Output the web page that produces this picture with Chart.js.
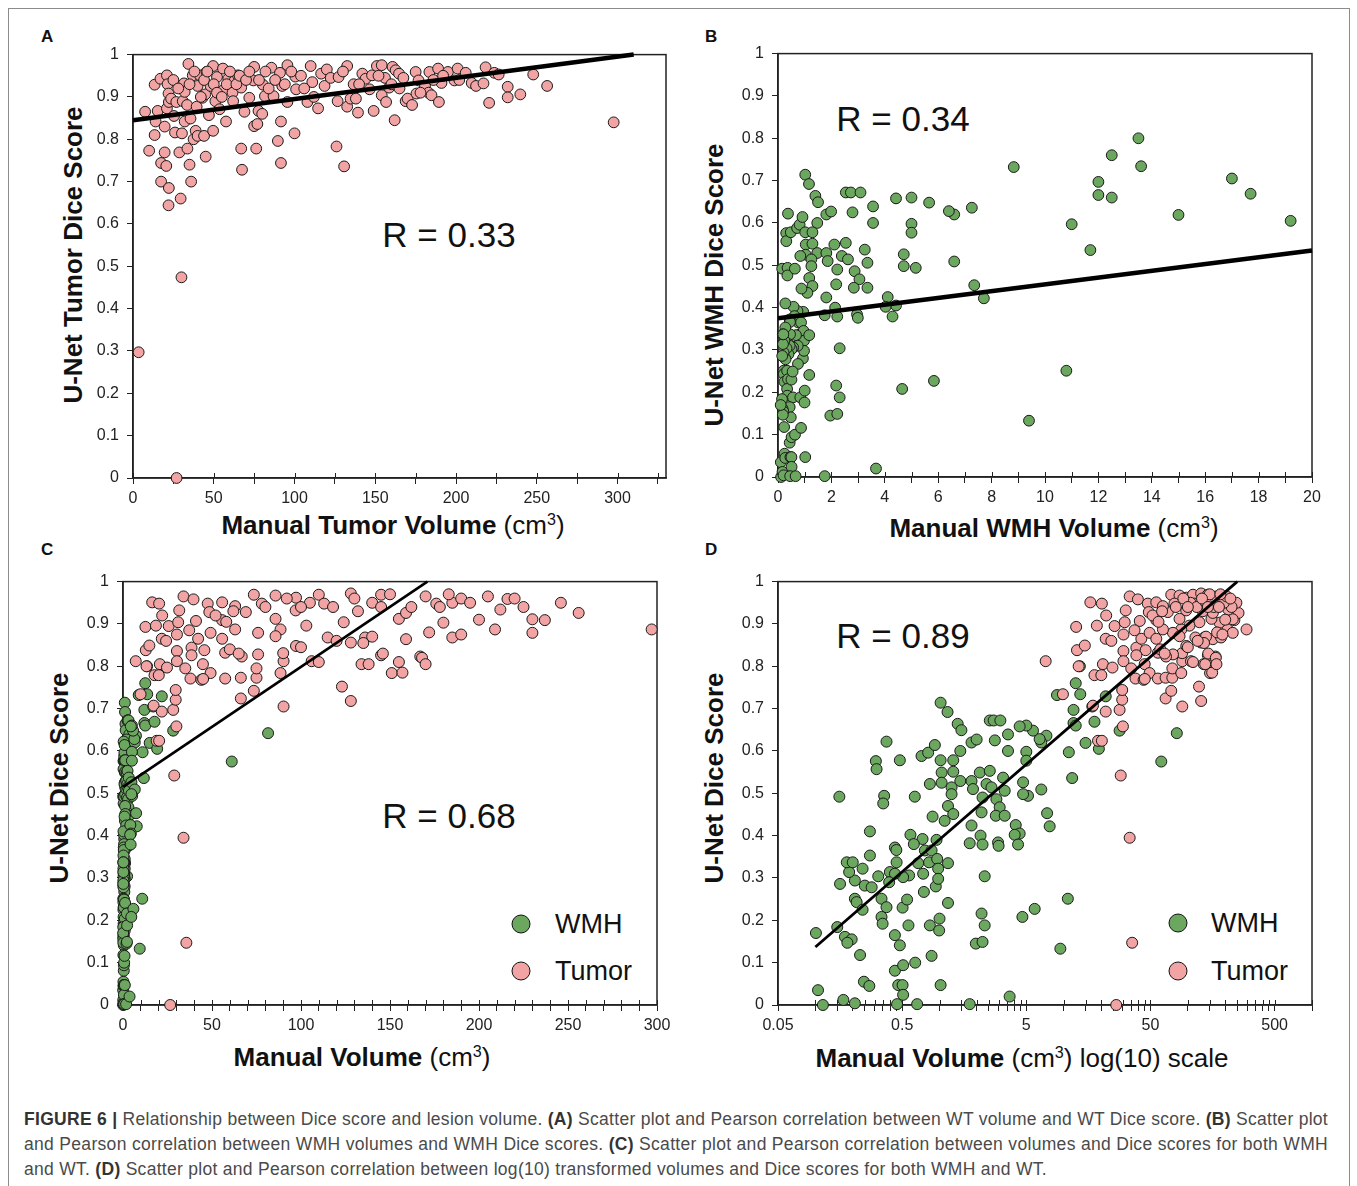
<!DOCTYPE html>
<html>
<head>
<meta charset="utf-8">
<script src="https://cdn.jsdelivr.net/npm/chart.js@4.4.1/dist/chart.umd.min.js"></script>
<style>
  body { margin: 0; background: #fff; font-family: "Liberation Sans", Arial, sans-serif; }
  #page { position: relative; width: 1357px; height: 1186px; overflow: hidden; background: #fff; }
  #frame { position: absolute; left: 8px; top: 8px; width: 1340px; height: 1240px; border: 1px solid #8c8c8c; }
  .plab { position: absolute; font-weight: bold; font-size: 17px; color: #111; }
  .ytitle { position: absolute; transform: translate(-50%, -50%) rotate(-90deg); white-space: nowrap; font-size: 26px; font-weight: bold; color: #111; }
  .xtitle { position: absolute; transform: translate(-50%, -50%); white-space: nowrap; font-size: 26px; color: #111; }
  .xtitle b { font-weight: bold; }
  sup { font-size: 0.62em; vertical-align: 0.55em; line-height: 0; }
  .rval { position: absolute; transform: translate(-50%, -50%); white-space: nowrap; font-size: 35px; color: #111; }
  .dot { position: absolute; width: 17px; height: 17px; border-radius: 50%; border: 1.5px solid #111; transform: translate(-50%, -50%); }
  .legtxt { position: absolute; transform: translateY(-50%); font-size: 27px; color: #111; white-space: nowrap; }
  .cap { position: absolute; left: 24px; white-space: nowrap; font-size: 17.5px; color: #4a4a4a; line-height: 25px; }
  .cap b { color: #333; }
</style>
</head>
<body>
<div id="page">
  <div id="frame"></div>

  <div class="plab" style="left:41px;top:27px">A</div>
  <div class="plab" style="left:705px;top:27px">B</div>
  <div class="plab" style="left:41px;top:540px">C</div>
  <div class="plab" style="left:705px;top:540px">D</div>

  <div class="ytitle" style="left:73px;top:255px">U-Net Tumor Dice Score</div>
  <div class="ytitle" style="left:714px;top:285px">U-Net WMH Dice Score</div>
  <div class="ytitle" style="left:59px;top:778px">U-Net Dice Score</div>
  <div class="ytitle" style="left:714px;top:778px">U-Net Dice Score</div>

  <div class="xtitle" style="left:393px;top:525px"><b>Manual Tumor Volume</b> (cm<sup>3</sup>)</div>
  <div class="xtitle" style="left:1054px;top:528px"><b>Manual WMH Volume</b> (cm<sup>3</sup>)</div>
  <div class="xtitle" style="left:362px;top:1057px"><b>Manual Volume</b> (cm<sup>3</sup>)</div>
  <div class="xtitle" style="left:1022px;top:1058px"><b>Manual Volume</b> (cm<sup>3</sup>) log(10) scale</div>

  <div class="rval" style="left:449px;top:235px">R = 0.33</div>
  <div class="rval" style="left:903px;top:119px">R = 0.34</div>
  <div class="rval" style="left:449px;top:816px">R = 0.68</div>
  <div class="rval" style="left:903px;top:636px">R = 0.89</div>

  <div class="dot" style="left:521px;top:924px;background:#6BA75E"></div>
  <div class="legtxt" style="left:555px;top:924px">WMH</div>
  <div class="dot" style="left:521px;top:971px;background:#F2A3A3"></div>
  <div class="legtxt" style="left:555px;top:971px">Tumor</div>
  <div class="dot" style="left:1178px;top:923px;background:#6BA75E"></div>
  <div class="legtxt" style="left:1211px;top:923px">WMH</div>
  <div class="dot" style="left:1178px;top:971px;background:#F2A3A3"></div>
  <div class="legtxt" style="left:1211px;top:971px">Tumor</div>

  <div class="cap" id="cap1" style="top:1107px"><b>FIGURE 6 |</b> Relationship between Dice score and lesion volume. <b>(A)</b> Scatter plot and Pearson correlation between WT volume and WT Dice score. <b>(B)</b> Scatter plot</div>
  <div class="cap" id="cap2" style="top:1132px">and Pearson correlation between WMH volumes and WMH Dice scores. <b>(C)</b> Scatter plot and Pearson correlation between volumes and Dice scores for both WMH</div>
  <div class="cap" id="cap3" style="top:1157px">and WT. <b>(D)</b> Scatter plot and Pearson correlation between log(10) transformed volumes and Dice scores for both WMH and WT.</div>
</div>

<script>
// ---- data: [volume cm3, dice] ----
const tumorA = [
  [3.5,0.297],[27,0],[30,0.474],[7.5,0.865],[10,0.773],[13.4,0.929],[13.4,0.81],[14,0.842],[15.3,0.867],[17,0.943],
  [17.4,0.744],[17.4,0.70],[19.6,0.83],[19.6,0.769],[20.6,0.737],[21,0.951],[21,0.873],[21.4,0.93],[22,0.644],[22.2,0.685],
  [22,0.908],[22.2,0.888],[23.6,0.896],[25.4,0.855],[26,0.816],[26.8,0.888],[28.7,0.769],[29.5,0.66],[30.3,0.814],[30.8,0.89],
  [31.6,0.932],[32,0.912],[32,0.842],[33.5,0.881],[33.7,0.778],[34.3,0.978],[35,0.74],[35.6,0.849],[36,0.70],[37,0.951],
  [37.5,0.80],[38.8,0.82],[39.4,0.877],[40,0.808],[40,0.926],[41.5,0.951],[43,0.898],[44,0.808],[44.7,0.906],[45,0.759],
  [45.5,0.959],[47,0.857],[48,0.926],[49.6,0.82],[49.6,0.973],[51,0.89],[52,0.947],[53.6,0.871],[55.7,0.967],[56,0.916],
  [57.6,0.842],[59,0.943],[61.6,0.91],[63,0.939],[65,0.951],[67,0.922],[67,0.778],[67.5,0.728],[69,0.865],[72,0.898],
  [74.5,0.939],[75,0.971],[75,0.831],[76.3,0.778],[77,0.836],[77.7,0.867],[80,0.86],[80.4,0.929],[81.7,0.902],[85.7,0.969],
  [87,0.902],[89.7,0.796],[91,0.957],[91.6,0.842],[91.6,0.744],[92.4,0.926],[95.6,0.975],[95.6,0.888],[100,0.814],[100.5,0.948],
  [101,0.918],[108,0.888],[110,0.973],[111,0.935],[114.6,0.873],[116.5,0.955],[118.6,0.926],[120,0.965],[122.4,0.945],[126,0.783],
  [126.7,0.89],[127.3,0.947],[130.7,0.736],[132.6,0.973],[132.6,0.877],[134.7,0.896],[136.6,0.93],[138,0.896],[139.3,0.863],[142,0.955],
  [144,0.943],[146.5,0.918],[148,0.951],[149,0.867],[151,0.973],[154,0.975],[154,0.904],[156,0.945],[156.7,0.888],[158.6,0.922],
  [160.7,0.971],[162,0.845],[162.6,0.963],[164.7,0.955],[167.4,0.945],[168.8,0.89],[170,0.896],[172.8,0.881],[175,0.959],[175.5,0.908],
  [176.8,0.939],[180.8,0.926],[183,0.91],[183.5,0.959],[184.8,0.904],[188.9,0.967],[189.4,0.888],[191,0.933],[195,0.959],[199,0.939],
  [201,0.967],[202,0.94],[206,0.957],[209.7,0.933],[212.4,0.926],[217,0.932],[218.3,0.97],[220.5,0.886],[223.7,0.957],[226.4,0.953],
  [232,0.924],[232,0.899],[239.8,0.906],[247.8,0.953],[256.4,0.926],[297.6,0.84],
  [25,0.94],[28,0.92],[35,0.93],[38,0.96],[42,0.9],[44,0.94],[46,0.96],[50,0.93],[52,0.91],[55,0.9],
  [58,0.93],[60,0.96],[62,0.89],[64,0.93],[66,0.95],[70,0.94],[72,0.96],[78,0.94],[82,0.96],[84,0.92],
  [88,0.94],[94,0.93],[98,0.96],[104,0.95],[106,0.92],[112,0.9],[130,0.96],[140,0.93],[152,0.95],[160,0.93],
  [165,0.92],[178,0.91],[186,0.94],[192,0.95]
];

const wmh = [
  [1.02,0.714],[1.16,0.692],[1.40,0.664],[1.50,0.649],[2.54,0.672],[2.73,0.672],[3.09,0.672],[3.56,0.639],[3.56,0.60],[2.79,0.625],
  [1.81,0.62],[1.99,0.627],[1.47,0.60],[0.374,0.622],[0.307,0.576],[0.311,0.557],[0.479,0.578],[0.716,0.588],[0.81,0.596],[0.917,0.614],
  [1.02,0.578],[1.29,0.578],[0.156,0.492],[0.358,0.494],[0.352,0.476],[0.632,0.492],[1.04,0.549],[1.04,0.525],[1.29,0.551],[1.47,0.529],
  [1.25,0.514],[1.25,0.498],[0.836,0.522],[1.81,0.529],[1.86,0.51],[2.11,0.549],[2.54,0.553],[2.39,0.522],[2.62,0.514],[2.22,0.49],
  [2.87,0.486],[3.25,0.537],[3.35,0.506],[3.05,0.467],[2.18,0.455],[2.84,0.447],[3.35,0.447],[1.17,0.47],[1.29,0.451],[1.10,0.435],
  [0.879,0.445],[1.81,0.424],[2.14,0.40],[2.22,0.379],[1.75,0.382],[2.96,0.384],[2.99,0.376],[2.31,0.304],[0.946,0.39],[0.73,0.392],
  [0.583,0.402],[0.621,0.38],[0.762,0.365],[0.863,0.365],[0.824,0.337],[0.957,0.345],[0.975,0.322],[0.933,0.28],[1.17,0.335],[0.975,0.298],
  [0.673,0.335],[0.738,0.31],[0.748,0.267],[0.569,0.306],[0.509,0.302],[0.451,0.337],[0.437,0.372],[0.449,0.366],[0.398,0.314],[0.437,0.31],
  [0.393,0.29],[0.321,0.304],[0.275,0.353],[0.275,0.41],[0.24,0.322],[0.25,0.282],[0.284,0.278],[0.208,0.294],[0.187,0.314],[0.179,0.337],
  [0.20,0.337],[0.158,0.286],[0.208,0.251],[0.215,0.243],[0.24,0.225],[0.341,0.251],[0.374,0.231],[0.341,0.208],[0.348,0.192],[0.504,0.23],
  [0.548,0.249],[1.17,0.241],[0.562,0.188],[0.836,0.188],[0.993,0.176],[1.0,0.204],[0.437,0.165],[0.479,0.141],[0.229,0.118],[0.15,0.184],
  [0.173,0.161],[0.196,0.155],[0.181,0.147],[0.101,0.17],[0.105,0.035],[0.115,0],[0.168,0.012],[0.208,0.004],[0.246,0.055],[0.272,0.045],
  [0.437,0.081],[0.509,0.094],[0.637,0.1],[0.863,0.116],[0.465,0.047],[0.504,0.047],[0.509,0.024],[0.455,0.002],[0.66,0.002],[1.02,0.047],
  [1.75,0.002],[1.96,0.145],[2.22,0.149],[2.18,0.216],[2.31,0.188],[3.67,0.02],
  [12.5,0.76],[13.6,0.734],[8.83,0.732],[12.0,0.697],[21.8,0.729],[12.0,0.666],[12.5,0.66],[17.7,0.669],[17.0,0.705],[81.5,0.642],
  [28.2,0.648],[15.0,0.619],[19.2,0.605],[11.0,0.597],[61.1,0.575],[11.7,0.536],[7.26,0.636],[6.6,0.62],[6.4,0.628],[5.66,0.648],
  [5.0,0.66],[4.42,0.658],[5.0,0.598],[5.0,0.577],[4.71,0.526],[6.6,0.509],
  [7.35,0.453],[7.71,0.422],[4.11,0.425],[4.42,0.405],[4.03,0.402],[4.29,0.379],[10.8,0.251],[5.84,0.227],[4.65,0.208],[9.4,0.133],
  [5.16,0.494],[4.71,0.498],[13.5,0.80]
];

const tumor = [
  [7.16,0.812],[9.86,0.734],[12.8,0.838],[12.6,0.893],[14.8,0.849],[13.2,0.80],[16.4,0.951],[20.3,0.948],[34,0.965],[39.6,0.958],
  [17.7,0.779],[20.7,0.805],[20.1,0.779],[24.7,0.797],[17.2,0.707],[21.8,0.693],[28.2,0.697],[29.6,0.721],[29.6,0.744],[30,0.658],
  [18.9,0.624],[20.3,0.624],[28.8,0.542],[18.5,0.896],[22,0.92],[21.8,0.865],[24.2,0.86],[25.7,0.895],[30.3,0.875],[31,0.904],
  [31.6,0.932],[30.3,0.836],[30.3,0.812],[35,0.795],[38.5,0.844],[42.2,0.865],[41,0.907],[37.2,0.885],[47.6,0.948],[48.5,0.928],
  [55.7,0.909],[55.7,0.951],[49.2,0.879],[45.7,0.838],[44.9,0.805],[49.2,0.784],[37.9,0.771],[44,0.768],[57.4,0.771],[66.2,0.773],
  [75,0.773],[75,0.795],[88.5,0.784],[90.2,0.812],[90.2,0.705],[66.2,0.724],[73.5,0.742],[123,0.752],[128,0.718],[106,0.812],
  [134,0.805],[151,0.784],[155,0.81],[167,0.823],[145,0.826],[90,0.831],[75.9,0.828],[66.7,0.823],[57.4,0.832],[97.2,0.848],
  [128,0.856],[115,0.868],[136,0.868],[159,0.864],[185,0.868],[209,0.887],[230,0.879],[297,0.887],[237,0.909],[256,0.926],
  [246,0.95],[216,0.959],[180,0.903],[155,0.912],[124,0.904],[103,0.896],[88.5,0.887],[75.9,0.879],[63,0.887],[69,0.928],
  [73.5,0.969],[85.7,0.967],[97.2,0.962],[110,0.969],[128,0.972],[145,0.969],[170,0.965],[185,0.95],[113,0.948],[97,0.932],
  [132,0.93],[159,0.926],[85.7,0.912],[63,0.942],[55.7,0.865],[38.5,0.826],[85.7,0.871],[230,0.911],[212,0.934],[225,0.94],
  [176,0.948],[78,0.948],[26.5,0],[34,0.395],[35.6,0.147],
  [105,0.95],[118,0.94],[140,0.95],[150,0.97],[162,0.94],[190,0.96],[195,0.95],[200,0.91],[205,0.965],[220,0.96],
  [172,0.88],[190,0.875],[140,0.87],[135,0.855],[120,0.86],[110,0.81],[138,0.805],[146,0.83],[157,0.785],[168,0.82],
  [170,0.805],[100,0.845],[60,0.84],[65,0.83],[45,0.77],[52,0.92],[58,0.905],[62,0.93],[80,0.94],[92,0.96],
  [100,0.94],[130,0.96],[145,0.94],[178,0.94],[183,0.97]
];

// regression lines (end points)
const fitA = [[0, 0.845], [310, 1.0]];
const fitB = [[0, 0.375], [20, 0.535]];
const fitC = [[0, 0.515], [171, 1.0]];
const fitD = [[0.1, 0.137], [250, 1.0]];

// ticks
const diceTicks = [0, 0.1, 0.2, 0.3, 0.4, 0.5, 0.6, 0.7, 0.8, 0.9, 1];
const xTicksA = [0, 25, 50, 75, 100, 125, 150, 175, 200, 225, 250, 275, 300, 325];
const xLabelsA = [0, 50, 100, 150, 200, 250, 300];
const xTicksB = [0, 1, 2, 3, 4, 5, 6, 7, 8, 9, 10, 11, 12, 13, 14, 15, 16, 17, 18, 19, 20];
const xLabelsB = [0, 2, 4, 6, 8, 10, 12, 14, 16, 18, 20];
const xTicksC = [0, 10, 20, 30, 40, 50, 60, 70, 80, 90, 100, 110, 120, 130, 140, 150, 160, 170, 180, 190,
                 200, 210, 220, 230, 240, 250, 260, 270, 280, 290, 300];
const xLabelsC = [0, 50, 100, 150, 200, 250, 300];
const xTicksD = [0.05, 0.1, 0.15, 0.2, 0.25, 0.3, 0.35, 0.4, 0.45,
                 0.5, 1, 1.5, 2, 2.5, 3, 3.5, 4, 4.5,
                 5, 10, 15, 20, 25, 30, 35, 40, 45,
                 50, 100, 150, 200, 250, 300, 350, 400, 450,
                 500, 1000];
const xLabelsD = [0.05, 0.5, 5, 50, 500];

const PINK = '#F2A3A3';
const GREEN = '#6BA75E';
const FONT = '"Liberation Sans", Arial, sans-serif';

function pts(pairs) { return pairs.map(p => ({ x: p[0], y: p[1] })); }

const framePlugin = {
  id: 'frame',
  beforeDatasetsDraw(chart) {
    const { ctx, chartArea: a } = chart;
    const x = chart.scales.x;
    ctx.save();
    ctx.strokeStyle = '#222';
    ctx.lineWidth = 1.5;
    ctx.strokeRect(a.left, a.top, a.right - a.left, a.bottom - a.top);
    ctx.lineWidth = 1;
    x.ticks.forEach(t => {
      const px = Math.round(x.getPixelForValue(t.value)) + 0.5;
      ctx.beginPath();
      ctx.moveTo(px, a.bottom - 5);
      ctx.lineTo(px, a.bottom);
      ctx.stroke();
    });
    ctx.restore();
  }
};

function scatterSet(pairs, color, r, order) {
  return { data: pts(pairs), backgroundColor: color, borderColor: '#1a1a1a', borderWidth: 1,
           pointRadius: r, pointHoverRadius: r, order: order, clip: false };
}
function lineSet(pairs, w) {
  return { data: pts(pairs), showLine: true, borderColor: '#000', borderWidth: w,
           pointRadius: 0, order: 0, clip: false };
}

function makeChart(area, xOpts, datasets) {
  const padL = 62, padT = 16, padR = 24, padB = 38;
  const w = area.right - area.left + padL + padR;
  const h = area.bottom - area.top + padT + padB;
  const cv = document.createElement('canvas');
  cv.width = w; cv.height = h;
  cv.style.cssText = `position:absolute;left:${area.left - padL}px;top:${area.top - padT}px;width:${w}px;height:${h}px`;
  document.getElementById('page').appendChild(cv);

  new Chart(cv, {
    type: 'scatter',
    data: { datasets },
    options: {
      responsive: false,
      animation: false,
      events: [],
      layout: { padding: { left: 0, top: padT, right: padR, bottom: 0 } },
      plugins: { legend: { display: false }, tooltip: { enabled: false } },
      scales: {
        x: {
          type: xOpts.type,
          min: xOpts.min,
          max: xOpts.max,
          afterBuildTicks: s => { s.ticks = xOpts.ticks.map(v => ({ value: v })); },
          afterFit: s => { s.height = padB; },
          ticks: {
            autoSkip: false, maxRotation: 0, minRotation: 0, padding: 5, color: '#222',
            font: { size: 16, family: FONT },
            callback: v => xOpts.labels.includes(v) ? String(v) : ''
          },
          grid: { drawOnChartArea: false, tickLength: 6, color: '#222' },
          border: { color: '#222', width: 1.5 }
        },
        y: {
          min: 0, max: 1,
          afterBuildTicks: s => { s.ticks = diceTicks.map(v => ({ value: v })); },
          afterFit: s => { s.width = padL; },
          ticks: {
            padding: 8, color: '#222',
            font: { size: 16, family: FONT },
            callback: v => (v === 0 || v === 1) ? String(v) : v.toFixed(1)
          },
          grid: { drawOnChartArea: false, tickLength: 6, color: '#222' },
          border: { color: '#222', width: 1.5 }
        }
      }
    },
    plugins: [framePlugin]
  });
}

// Panel A
makeChart({ left: 133, top: 53, right: 666, bottom: 478 },
  { type: 'linear', min: 0, max: 330, ticks: xTicksA, labels: xLabelsA },
  [lineSet(fitA, 4.5), scatterSet(tumorA, PINK, 5.4, 1)]);

// Panel B
makeChart({ left: 778, top: 52, right: 1312, bottom: 477 },
  { type: 'linear', min: 0, max: 20, ticks: xTicksB, labels: xLabelsB },
  [lineSet(fitB, 4.5), scatterSet(wmh.filter(p => p[0] <= 20), GREEN, 5.4, 1)]);

// Panel C
makeChart({ left: 123, top: 580, right: 657, bottom: 1005 },
  { type: 'linear', min: 0, max: 300, ticks: xTicksC, labels: xLabelsC },
  [lineSet(fitC, 2.6), scatterSet(tumor, PINK, 5.5, 1), scatterSet(wmh, GREEN, 5.5, 2)]);

// Panel D
makeChart({ left: 778, top: 580, right: 1312, bottom: 1005 },
  { type: 'logarithmic', min: 0.05, max: 1000, ticks: xTicksD, labels: xLabelsD },
  [lineSet(fitD, 2.8), scatterSet(tumor, PINK, 5.5, 1), scatterSet(wmh, GREEN, 5.5, 2)]);

// stretch caption lines to the widths of the figure text block
[['cap1', 1304], ['cap2', 1304], ['cap3', 1023]].forEach(([id, target]) => {
  const el = document.getElementById(id);
  const n = el.textContent.length;
  const wNow = el.getBoundingClientRect().width;
  el.style.letterSpacing = ((target - wNow) / n) + 'px';
});
</script>
</body>
</html>
